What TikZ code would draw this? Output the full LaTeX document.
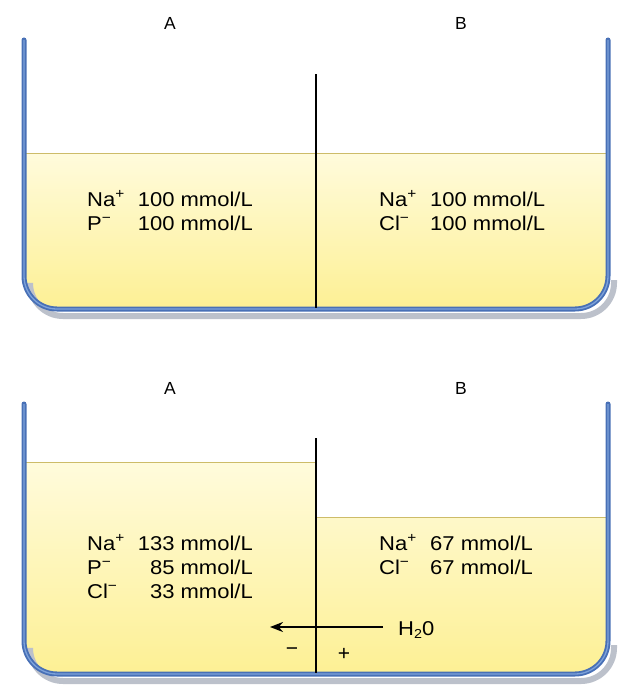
\documentclass[tikz,border=0pt]{standalone}
\usepackage{fontspec}
\setmainfont{Liberation Sans}
\newfontfamily\concfont[FakeStretch=1.1]{Liberation Sans}
\usetikzlibrary{arrows.meta}
\definecolor{wallblue}{RGB}{72,112,182}
\definecolor{wallhi}{RGB}{125,162,218}
\definecolor{shadowgray}{RGB}{188,193,203}
\definecolor{liqtop}{RGB}{255,251,220}
\definecolor{liqbot}{RGB}{253,240,148}
\definecolor{levelcol}{RGB}{205,188,105}
\tikzset{
  wall/.style={draw=wallblue,line width=5pt,line cap=round},
  wallstripe/.style={draw=wallhi,line width=1.3pt},
  shadowline/.style={draw=shadowgray,line width=6pt},
  level/.style={draw=levelcol,line width=1pt},
  membr/.style={draw=black,line width=2.5pt},
  lbl/.style={font=\fontsize{17.5}{19}\selectfont,inner sep=0pt},
  conc/.style={font=\concfont\fontsize{20}{22}\selectfont,inner sep=0pt},
  sign/.style={font=\fontsize{21}{23}\selectfont,inner sep=0pt},
  flow/.style={draw=black,line width=2.5pt,-{Stealth[length=13pt,width=10pt]}}
}
\begin{document}
\begin{tikzpicture}[x=1pt,y=-1pt]
\useasboundingbox (0,0) rectangle (633,685);
% ---------------- beaker 1 ----------------
\begin{scope}
  \clip[rounded corners=33pt] (24,0) -- (24,309) -- (608,309) -- (608,0) -- cycle;
  \shade[top color=liqtop,bottom color=liqbot] (24,153) rectangle (608,309);
\end{scope}
\draw[shadowline,rounded corners=33pt] (30,290) -- (30,316) -- (614,316) -- (614,280);
\draw[level] (24,153) -- (608,153);
\draw[wall,rounded corners=33pt] (24,40) -- (24,309) -- (608,309) -- (608,40);
\draw[wallstripe,rounded corners=33pt] (24,40) -- (24,309) -- (608,309) -- (608,40);
\coordinate (m1top) at (316,74);
\coordinate (m1bot) at (316,308);
\draw[membr] (m1top) -- (m1bot);
\node[lbl] (a1) at (170,23) {A};
\node[lbl] (b1) at (461,23) {B};
\node[conc,anchor=base west] (a1na) at (87,206) {Na\textsuperscript{+}};
\node[conc,anchor=base west] (a1p) at (87,230) {P\textsuperscript{−}};
\node[conc,anchor=base east] (a1nav) at (253,206) {100 mmol/L};
\node[conc,anchor=base east] (a1pv) at (253,230) {100 mmol/L};
\node[conc,anchor=base west] (b1na) at (379,206) {Na\textsuperscript{+}};
\node[conc,anchor=base west] (b1cl) at (379,230) {Cl\textsuperscript{−}};
\node[conc,anchor=base west] (b1nav) at (430,206) {100 mmol/L};
\node[conc,anchor=base west] (b1clv) at (430,230) {100 mmol/L};
% ---------------- beaker 2 ----------------
\begin{scope}
  \clip[rounded corners=33pt] (24,360) -- (24,674) -- (608,674) -- (608,360) -- cycle;
  \clip (24,462) -- (316,462) -- (316,517) -- (608,517) -- (608,700) -- (24,700) -- cycle;
  \shade[top color=liqtop,bottom color=liqbot] (24,462) rectangle (608,674);
\end{scope}
\draw[shadowline,rounded corners=33pt] (30,655) -- (30,681) -- (614,681) -- (614,645);
\draw[level] (24,462) -- (316,462);
\draw[level] (316,517) -- (608,517);
\draw[wall,rounded corners=33pt] (24,404) -- (24,674) -- (608,674) -- (608,404);
\draw[wallstripe,rounded corners=33pt] (24,404) -- (24,674) -- (608,674) -- (608,404);
\coordinate (m2top) at (316,438);
\coordinate (m2bot) at (316,673);
\draw[membr] (m2top) -- (m2bot);
\node[lbl] (a2) at (170,388) {A};
\node[lbl] (b2) at (461,388) {B};
\node[conc,anchor=base west] (a2na) at (87,550) {Na\textsuperscript{+}};
\node[conc,anchor=base west] (a2p) at (87,574) {P\textsuperscript{−}};
\node[conc,anchor=base west] (a2cl) at (87,598) {Cl\textsuperscript{−}};
\node[conc,anchor=base east] (a2nav) at (253,550) {133 mmol/L};
\node[conc,anchor=base east] (a2pv) at (253,574) {85 mmol/L};
\node[conc,anchor=base east] (a2clv) at (253,598) {33 mmol/L};
\node[conc,anchor=base west] (b2na) at (379,550) {Na\textsuperscript{+}};
\node[conc,anchor=base west] (b2cl) at (379,574) {Cl\textsuperscript{−}};
\node[conc,anchor=base west] (b2nav) at (430,550) {67 mmol/L};
\node[conc,anchor=base west] (b2clv) at (430,574) {67 mmol/L};
\node[conc,anchor=base west] (h2o) at (398,635) {H\raisebox{-0.35ex}{\fontsize{13}{14}\selectfont 2}0};
\coordinate (flowstart) at (383,627);
\coordinate (flowend) at (270,627);
\draw[flow] (flowstart) -- (flowend);
\node[sign] (minus) at (292,652) {−};
\node[sign] (plus) at (344,654) {+};
\end{tikzpicture}
\end{document}
